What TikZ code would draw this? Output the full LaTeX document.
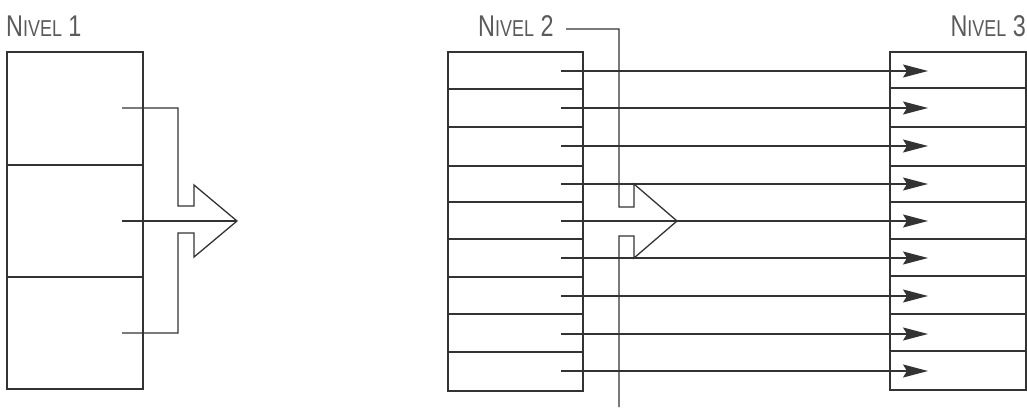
\documentclass[tikz,border=0pt]{standalone}
\usepackage{fontspec}
\setmainfont{Liberation Sans}
\usetikzlibrary{arrows.meta}
\definecolor{ink}{HTML}{333333}
\definecolor{lbl}{HTML}{5A5A5A}
\newcommand\nivelname[1]{\scalebox{0.78}[1]{\fontsize{30}{30}\selectfont N\fontsize{23}{23}\selectfont IVEL\fontsize{30}{30}\selectfont\ #1}}
\tikzset{
  box/.style={draw=ink, line width=1.3pt, inner sep=0pt, minimum width=136pt},
  rule/.style={draw=ink, line width=1.3pt},
  conn/.style={draw=ink, line width=1.3pt, line join=miter},
  link/.style={draw=ink, line width=1.3pt, -{Stealth[length=25pt,width=13pt,inset=4pt]}},
  lab/.style={text=lbl, inner sep=0pt}
}
\begin{document}
\begin{tikzpicture}[x=1pt,y=-1pt]
\useasboundingbox (0,0) rectangle (1027,407);
% labels
\node[lab, anchor=base west] (l1) at (6,36) {\nivelname{1}};
\node[lab, anchor=base west] (l2) at (478,36) {\nivelname{2}};
\node[lab, anchor=base east] (l3) at (1026,36) {\nivelname{3}};
% boxes
\node[box, minimum height=337pt] (b1) at (75,220.5) {};
\node[box, minimum width=135pt, minimum height=339pt] (b2) at (515.5,221.5) {};
\node[box, minimum width=136pt, minimum height=338pt] (b3) at (958,221) {};
% dividers box 1
\foreach \y in {165,277} \draw[rule] (b1.west |- 0,\y) -- (b1.east |- 0,\y);
% dividers box 2
\foreach \y in {89,127,166,202,239,277,314,352} \draw[rule] (b2.west |- 0,\y) -- (b2.east |- 0,\y);
% dividers box 3
\foreach \y in {88,127,166,202,239,276,314,351} \draw[rule] (b3.west |- 0,\y) -- (b3.east |- 0,\y);
% level 1 connector
\coordinate (a1) at (122,108);
\coordinate (a2) at (122,221);
\coordinate (a3) at (122,333);
\coordinate (t1) at (237,221);
\draw[conn] (a1) -- (178,108) -- (178,206) -- (194,206) -- (194,185) -- (t1)
  -- (194,257) -- (194,233) -- (178,233) -- (178,333) -- (a3);
\draw[conn] (a2) -- (t1);
% level 2 -> level 3 links
\foreach \y [count=\i] in {71,108,146,184,221,258,296,334,371} {
  \coordinate (s\i) at (561,\y);
  \coordinate (e\i) at (928,\y);
  \draw[link] (s\i) -- (e\i);
}
% level 2 big arrow
\coordinate (k0) at (566,29);
\coordinate (kb) at (619,407);
\draw[conn] (k0) -- (619,29) -- (619,207) -- (634,207) -- (634,184) -- (677,221)
  -- (634,258) -- (634,236) -- (619,236) -- (kb);
\end{tikzpicture}
\end{document}
